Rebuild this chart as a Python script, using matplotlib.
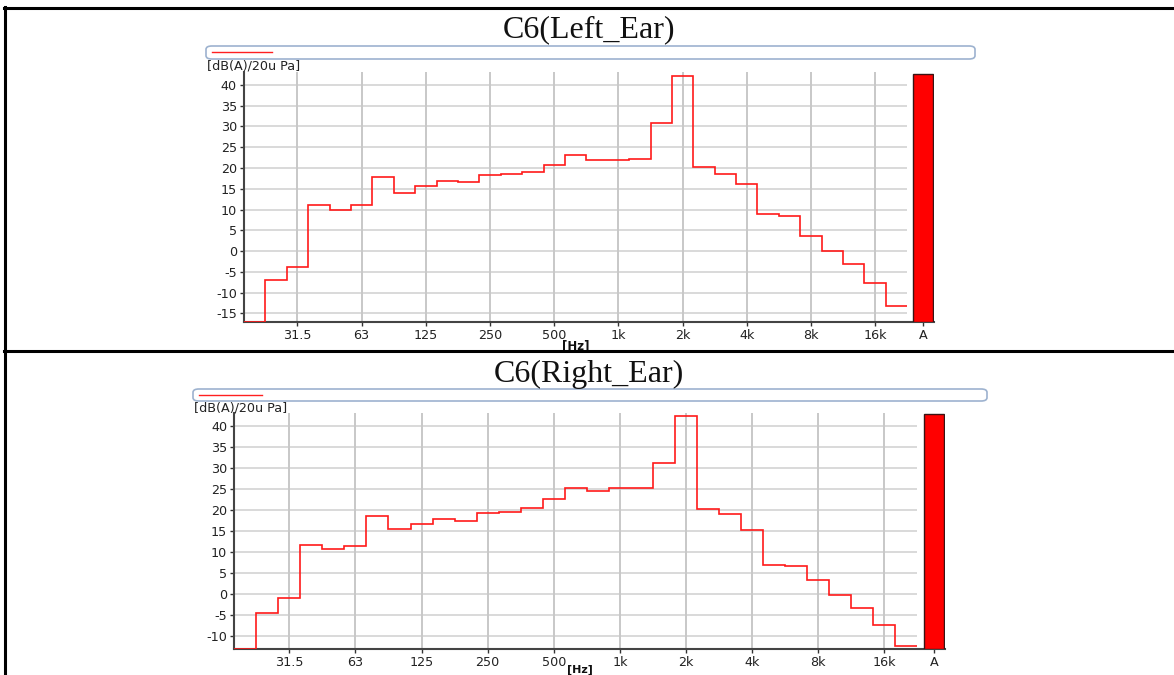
import numpy as np
import matplotlib
matplotlib.use("Agg")
import matplotlib.pyplot as plt
from matplotlib.patches import FancyBboxPatch, Rectangle
from matplotlib.lines import Line2D

# One-third-octave band centre frequencies (Hz), 20 Hz .. 20 kHz
bands = ["20", "25", "31.5", "40", "50", "63", "80", "100", "125", "160",
         "200", "250", "315", "400", "500", "630", "800", "1k", "1.25k", "1.6k",
         "2k", "2.5k", "3.15k", "4k", "5k", "6.3k", "8k", "10k", "12.5k", "16k", "20k"]

# Octave tick labels shown on the frequency axis
tick_labels = ["31.5", "63", "125", "250", "500", "1k", "2k", "4k", "8k", "16k"]

# Band levels, dB(A) re 20 uPa
left_levels = [-17.0, -7.0, -3.9, 11.2, 10.0, 11.0, 17.8, 13.9, 15.6, 16.8,
               16.6, 18.4, 18.6, 19.0, 20.7, 23.2, 21.9, 22.0, 22.2, 30.8,
               42.2, 20.2, 18.5, 16.1, 8.9, 8.4, 3.7, 0.0, -3.2, -7.8, -13.3]
right_levels = [-13.25, -4.6, -1.1, 11.7, 10.6, 11.3, 18.5, 15.3, 16.6, 17.8,
                17.3, 19.2, 19.4, 20.4, 22.5, 25.1, 24.5, 25.1, 25.2, 31.0,
                42.3, 20.2, 18.9, 15.1, 6.8, 6.6, 3.2, -0.4, -3.3, -7.5, -12.4]

# Overall A-weighted level
left_total = 42.7
right_total = 42.9

W, H = 1174, 675
fig = plt.figure(figsize=(W / 100, H / 100), dpi=100)
fig.patch.set_facecolor("white")


def fx(px):
    return px / W


def fy(py):
    return 1 - py / H


def panel(title, levels, total, ax_box, ylim, yticks, title_y, legend_box,
          legend_line, ylabel_pos, hz_pos, hz_size):
    left, top, right, bottom = ax_box
    ax = fig.add_axes([fx(left), fy(bottom), fx(right - left), (bottom - top) / H])
    n = len(levels)
    edges = np.arange(n + 1) - 0.5
    idx = {b: i for i, b in enumerate(bands)}
    tick_pos = [idx[t] for t in tick_labels]
    a_pos = n + 0.25

    ax.set_xlim(-0.5, n + 0.75)
    ax.set_ylim(*ylim)

    # grid
    for yv in yticks:
        ax.plot([-0.5, n - 0.5], [yv, yv], color="#d9d9d9", lw=1.4, zorder=1,
                solid_capstyle="butt")
    for xv in tick_pos:
        ax.axvline(xv, color="#c8c8c8", lw=1.4, zorder=1)

    # band spectrum
    ax.stairs(levels, edges, baseline=None, color="#ff1a1a", lw=1.2, zorder=3)

    # overall level bar
    ax.bar(a_pos, total - ylim[0], bottom=ylim[0], width=0.93, color="#ff0000",
           edgecolor="#3a1414", lw=1.0, zorder=3)

    ax.set_xticks(tick_pos + [a_pos])
    ax.set_xticklabels(tick_labels + ["A"])
    ax.set_yticks(yticks)
    ax.set_yticklabels([str(v) for v in yticks])
    ax.tick_params(axis="both", labelsize=9.2, colors="#333333", length=3,
                   width=1.0, pad=2, labelcolor="#222222")
    for s in ("top", "right"):
        ax.spines[s].set_visible(False)
    for s in ("left", "bottom"):
        ax.spines[s].set_color("#444444")
        ax.spines[s].set_linewidth(1.5)

    # title
    fig.text(fx(589), fy(title_y), title, ha="center", va="baseline",
             fontsize=23, family="Liberation Serif", color="#111111")

    # legend strip
    lx0, ly0, lx1, ly1 = legend_box
    fig.patches.append(FancyBboxPatch((fx(lx0), fy(ly1)), fx(lx1 - lx0), (ly1 - ly0) / H,
                                      boxstyle="round,pad=0,rounding_size=0.005",
                                      transform=fig.transFigure, facecolor="white",
                                      edgecolor="#9db2cf", lw=1.2))
    x0, x1, yl = legend_line
    fig.lines.append(Line2D([fx(x0), fx(x1)], [fy(yl), fy(yl)], color="#ff2020",
                            lw=1.0, transform=fig.transFigure))

    fig.text(fx(ylabel_pos[0]), fy(ylabel_pos[1]), "[dB(A)/20u Pa]", ha="left",
             va="center", fontsize=9.2, color="#222222")
    fig.text(fx(hz_pos[0]), fy(hz_pos[1]), "[Hz]", ha="center", va="top",
             fontsize=hz_size, fontweight="bold", color="#111111")
    return ax


panel("C6(Left_Ear)", left_levels, left_total,
      (244, 72, 934, 321.7), (-17, 43.1), list(range(-15, 41, 5)), 37,
      (206, 46, 975, 59), (212, 272, 52.3), (207, 66), (576, 339), 8.5)

# mask the lower part of the first "[Hz]" under the row divider
fig.patches.append(Rectangle((0, fy(358)), 1, (358 - 351) / H, transform=fig.transFigure,
                             facecolor="white", edgecolor="none", zorder=5))

panel("C6(Right_Ear)", right_levels, right_total,
      (234.2, 413.3, 945, 649.3), (-13.25, 42.95), list(range(-10, 41, 5)), 381.5,
      (193, 389, 987, 401), (199, 262, 394.5), (194, 408), (580, 664.5), 8)

# table borders
for xs, ys in (([4, 1174], [7.5, 7.5]), ([4, 1174], [351, 351]), ([5, 5], [7, 675])):
    fig.lines.append(Line2D([fx(v) for v in xs], [fy(v) for v in ys], color="black",
                            lw=2.2, transform=fig.transFigure, zorder=10))

fig.savefig("out.png", dpi=100, facecolor="white")
